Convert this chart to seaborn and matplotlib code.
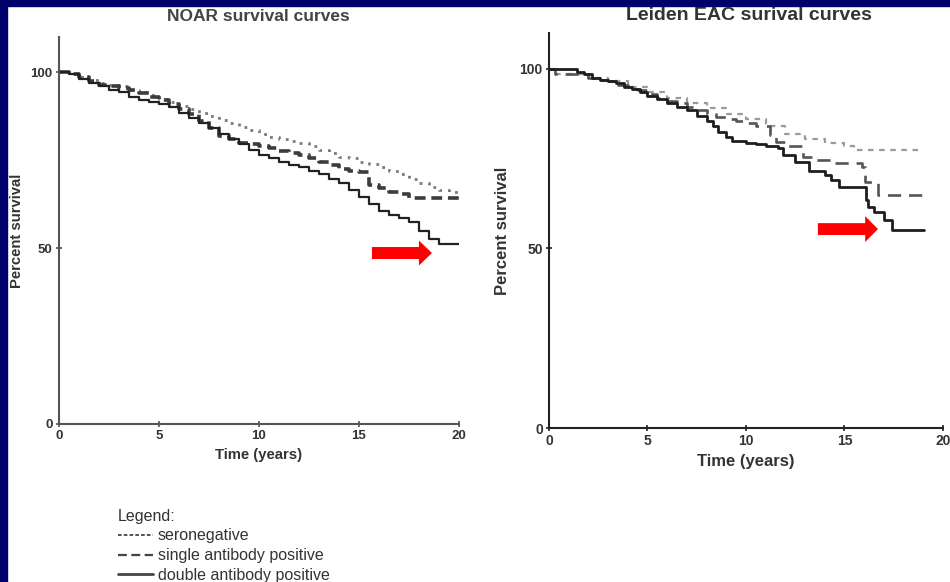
import matplotlib.pyplot as plt
import pandas as pd
import seaborn as sns
from matplotlib.lines import Line2D
from matplotlib.patches import Rectangle

# NOAR cohort (Kaplan-Meier estimates, % survival)
noar_time = [0, 0.5, 1, 1.5, 2, 2.5, 3, 3.5, 4, 4.5, 5, 5.5, 6, 6.5, 7, 7.5, 8, 8.5, 9, 9.5,
             10, 10.5, 11, 11.5, 12, 12.5, 13, 13.5, 14, 14.5, 15, 15.5, 16, 16.5, 17, 17.5,
             18, 18.5, 19, 19.5, 20]
noar_sero = [100, 99.5, 98.5, 97.8, 97, 96.5, 96, 95, 94.5, 93.5, 92.5, 91.5, 90.5, 89.5, 88.5,
             87.5, 86.5, 85.5, 84.5, 83.5, 82.5, 81.5, 81, 80.5, 80, 79, 78, 77, 76, 75.5, 74.5,
             74, 73, 72, 71, 69.5, 68.5, 67.5, 66.5, 66, 66]
noar_single = [100, 99.5, 98.5, 97.5, 96.5, 96, 95.5, 95, 94, 93, 92, 91, 89.5, 88, 86, 84,
               82, 81, 80, 79.5, 79, 78.5, 77.5, 77, 76.5, 75.5, 74.5, 73.5, 72.5, 72, 71.5,
               68, 67, 66, 65.5, 64.3, 64.3, 64.3, 64.3, 64.3, 64.3]
noar_double = [100, 99.5, 98, 97, 96, 95, 94.5, 93, 92, 91.5, 91, 90, 88.5, 87, 85.5, 84, 82.5,
               81, 79.5, 78, 76.5, 75.5, 74.5, 73.5, 73, 72, 71, 69.5, 68.5, 66.5, 64.5, 62.5,
               60.5, 59.5, 58.5, 57.5, 55, 52.5, 51.3, 51.3, 51.3]

# Leiden EAC cohort
eac_sero_t = [0, 0.3, 1.4, 2, 3, 4, 5, 6, 7, 8, 9, 10, 11, 12, 13, 14, 15, 15.5, 18.9]
eac_sero = [100, 98.5, 98.5, 97.5, 96.5, 95, 93.5, 92, 90.5, 89, 87.5, 86, 84, 82, 80.5, 79.5,
            78.5, 77.4, 77.4]
eac_single_t = [0, 0.3, 1.4, 2, 2.5, 3, 3.5, 4, 4.5, 5, 5.5, 6, 6.5, 7, 7.5, 8, 8.5, 9, 9.5, 10,
                10.5, 11.2, 11.5, 12, 12.9, 13.5, 14.4, 15.9, 16.05, 16.7, 19.05]
eac_single = [100, 98.5, 98.5, 97.5, 97, 96.5, 95.5, 94.5, 94, 93, 92, 91, 90.5, 89.5, 88.5,
              87.5, 86.5, 86, 85.5, 85, 84, 81.5, 79.7, 78.5, 75.5, 74.5, 73.8, 72.7, 68.5, 65, 65]
eac_double_t = [0, 1.4, 1.8, 2.2, 2.6, 3.0, 3.4, 3.8, 4.2, 4.6, 5.0, 5.5, 6.0, 6.5, 7.0, 7.5, 8.0,
                8.3, 8.6, 9.0, 9.3, 10.0, 10.5, 11.0, 11.6, 11.9, 12.5, 13.2, 14.0, 14.3, 14.7,
                16.1, 16.2, 16.5, 17.0, 17.4, 19.05]
eac_double = [100, 99, 98.5, 97.5, 97, 96.5, 96, 95, 94.5, 93.5, 92.5, 91.5, 90.5, 89.5, 88.5,
              87, 85.5, 84, 82.5, 81, 80, 79.5, 79, 78.5, 78, 76, 74, 71.5, 70.5, 69, 67, 63.5,
              61.5, 60.2, 58, 55.2, 55.2]

groups = ["seronegative", "single antibody positive", "double antibody positive"]

sns.set_style("ticks")
plt.rcParams["font.family"] = ["Liberation Sans", "DejaVu Sans"]

fig = plt.figure(figsize=(9.5, 5.82), dpi=100)
ax1 = fig.add_axes([0.0621, 0.2715, 0.421, 0.6649])
ax2 = fig.add_axes([0.5779, 0.2646, 0.4147, 0.6787])

# NOAR panel
noar_styles = [
    dict(color="#7a7a7a", linestyle=(0, (1, 2.2)), linewidth=2.0),
    dict(color="#3c3c3c", linestyle=(0, (3, 1.6)), linewidth=2.6),
    dict(color="#222222", linestyle="-", linewidth=1.6),
]
for vals, g, st in zip([noar_sero, noar_single, noar_double], groups, noar_styles):
    df = pd.DataFrame({"t": noar_time, "s": vals})
    sns.lineplot(data=df, x="t", y="s", ax=ax1, drawstyle="steps-post", **st)

# Leiden panel
eac_styles = [
    dict(color="#9a9a9a", linestyle=(0, (2.5, 2.5)), linewidth=1.6),
    dict(color="#555555", linestyle=(0, (5, 3)), linewidth=1.9),
    dict(color="#1e1e1e", linestyle="-", linewidth=2.0),
]
eac_data = [(eac_sero_t, eac_sero), (eac_single_t, eac_single), (eac_double_t, eac_double)]
for (t, vals), g, st in zip(eac_data, groups, eac_styles):
    df = pd.DataFrame({"t": t, "s": vals})
    sns.lineplot(data=df, x="t", y="s", ax=ax2, drawstyle="steps-post", **st)

# red arrows
ax1.arrow(15.65, 48.6, 3.0, 0, width=3.4, head_width=7.1, head_length=0.65,
          length_includes_head=True, color="#ff0000", linewidth=0)
ax2.arrow(13.65, 55.4, 3.05, 0, width=3.3, head_width=7.2, head_length=0.65,
          length_includes_head=True, color="#ff0000", linewidth=0)

for ax, col, fs_tick, fs_lab in [(ax1, "#555555", 9.5, 10.7), (ax2, "#222222", 10, 12)]:
    ax.set_xlim(0, 20)
    ax.set_ylim(0, 110)
    ax.set_xticks([0, 5, 10, 15, 20])
    ax.set_yticks([0, 50, 100])
    sns.despine(ax=ax)
    for sp in ["left", "bottom"]:
        ax.spines[sp].set_color(col)
        ax.spines[sp].set_linewidth(1.5)
    ax.tick_params(axis="both", direction="inout", length=5, width=1.2, color=col,
                   labelsize=fs_tick, labelcolor="#333333", pad=2)
    for lab in ax.get_xticklabels() + ax.get_yticklabels():
        lab.set_fontweight("bold")
    ax.set_xlabel("Time (years)", fontsize=fs_lab, fontweight="bold", color="#333333", labelpad=4)
    ax.set_ylabel("Percent survival", fontsize=fs_lab, fontweight="bold", color="#333333")

ax1.yaxis.set_label_coords(-0.088, 0.5)
ax2.yaxis.set_label_coords(-0.099, 0.5)

fig.text(0.272, 0.971, "NOAR survival curves", ha="center", va="center", fontsize=12.5,
         fontweight="bold", color="#444444")
fig.text(0.788, 0.973, "Leiden EAC surival curves", ha="center", va="center", fontsize=14,
         fontweight="bold", color="#333333")

# legend
handles = [
    Line2D([], [], color="#444444", linestyle=(0, (2, 1.2)), linewidth=1.3),
    Line2D([], [], color="#444444", linestyle=(0, (4, 2)), linewidth=1.6),
    Line2D([], [], color="#444444", linestyle="-", linewidth=2.0),
]
leg = fig.legend(handles, groups, title="Legend:", loc="upper left",
                 bbox_to_anchor=(0.124, 0.126), frameon=False, fontsize=11.5,
                 title_fontsize=11.5, handlelength=2.2, handletextpad=0.3,
                 labelspacing=0.3, alignment="left", borderaxespad=0, borderpad=0)
for txt in leg.get_texts():
    txt.set_color("#333333")
leg.get_title().set_color("#333333")

# navy slide frame
navy = "#00006a"
fig.patches.append(Rectangle((0, 1 - 6 / 582), 1, 6 / 582, transform=fig.transFigure,
                             color=navy, zorder=10))
fig.patches.append(Rectangle((0, 0), 7 / 950, 1, transform=fig.transFigure,
                             color=navy, zorder=10))

fig.savefig("out.png", dpi=100)
plt.close(fig)
